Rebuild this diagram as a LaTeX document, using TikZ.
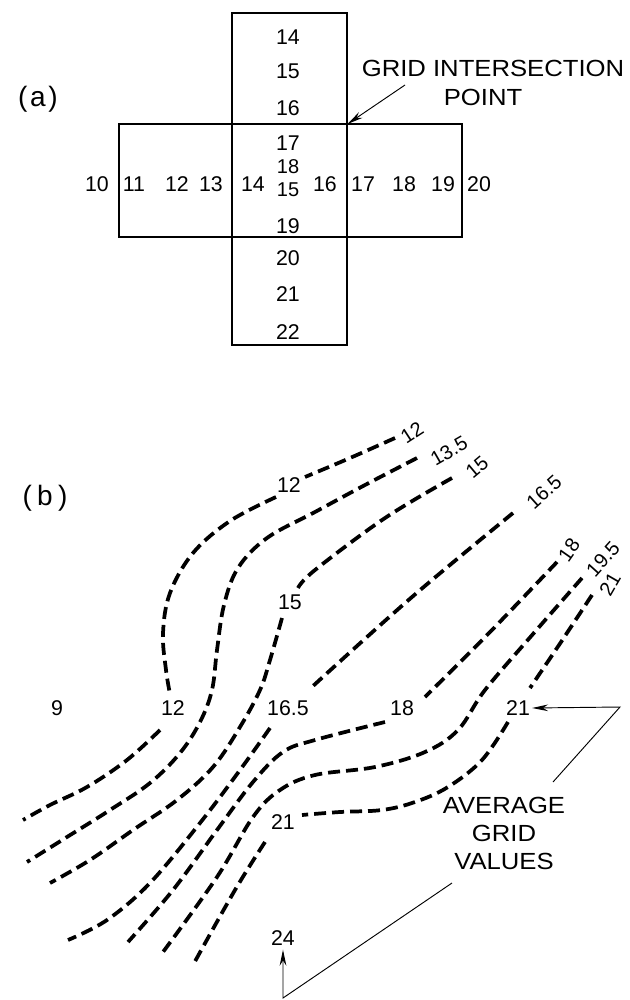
\documentclass[tikz,border=0pt]{standalone}
\usepackage{fontspec}
\setmainfont{Liberation Sans}
\usetikzlibrary{arrows.meta}
\tikzset{
  box/.style={draw, line width=0.9pt},
  contour/.style={line width=2.8pt, dash pattern=on 9pt off 4.5pt},
  lead/.style={line width=0.7pt},
  tipped/.style={-{Stealth[length=12pt,width=5pt]}},
  num/.style={inner sep=0pt, font=\fontsize{16}{18}\selectfont},
  endnum/.style={inner sep=0pt, font=\fontsize{15}{16}\selectfont},
  smallnum/.style={inner sep=0pt, font=\fontsize{15}{16}\selectfont},
  word/.style={inner sep=0pt, font=\fontsize{17.5}{21}\selectfont, xscale=1.1, align=center},
  plabel/.style={inner sep=0pt, font=\fontsize{21}{23}\selectfont}
}
\begin{document}
\begin{tikzpicture}[x=0.75pt,y=-0.75pt]
\useasboundingbox (0,0) rectangle (630,1000);
% ---------- (a) ----------
\node[plabel] (la) at (38,99) {(\hspace{2pt}a\hspace{2pt})};
\draw[box] (232,13) rectangle (347,345);
\draw[box] (119,124) rectangle (462,237);
\node[num] (c14) at (288,37) {14};
\node[num] (c15) at (288,71) {15};
\node[num] (c16) at (288,108) {16};
\node[num] (c17) at (288,143) {17};
\node[smallnum] (c18) at (288,167) {18};
\node[smallnum] (c15b) at (288,190) {15};
\node[num] (c19) at (288,226) {19};
\node[num] (c20) at (288,258) {20};
\node[num] (c21) at (288,294) {21};
\node[num] (c22) at (288,332) {22};
\node[num] (r10) at (97,184) {10};
\node[num] (r11) at (134,184) {11};
\node[num] (r12) at (177,184) {12};
\node[num] (r13) at (211,184) {13};
\node[num] (r14) at (253,184) {14};
\node[num] (r16) at (325,184) {16};
\node[num] (r17) at (363,184) {17};
\node[num] (r18) at (404,184) {18};
\node[num] (r19) at (443,184) {19};
\node[num] (r20) at (479,184) {20};
\node[word] (gi1) at (493,68) {GRID INTERSECTION};
\node[word] (gi2) at (483,97) {POINT};
\coordinate (gtail) at (405,85);
\coordinate (gip) at (347.5,124);
\draw[lead, tipped] (gtail) -- (gip);
% ---------- (b) ----------
\node[plabel] (lb) at (45,498) {(\hspace{4pt}b\hspace{4pt})};
% end labels (rotated)
\node[endnum, rotate=33] (e12) at (412,433) {12};
\node[endnum, rotate=30] (e135) at (449,451) {13.5};
\node[endnum, rotate=40] (e15) at (477,467) {15};
\node[endnum, rotate=42] (e165) at (544,492) {16.5};
\node[endnum, rotate=55] (e18) at (569,550) {18};
\node[endnum, rotate=48] (e195) at (603,559) {19.5};
\node[endnum, rotate=60] (e21) at (610,584) {21};
% grid values
\node[num] (v9) at (57,708) {9};
\node[num] (v12) at (173,708) {12};
\node[num] (v165) at (288,708) {16.5};
\node[num] (v18) at (402,708) {18};
\node[num] (v21) at (518,708) {21};
\node[num] (m12) at (289,485) {12};
\node[num] (m15) at (290,602) {15};
\node[num] (m21) at (283,822) {21};
\node[num] (v24) at (283,938) {24};
% contours
\draw[contour] plot[smooth, tension=0.6] coordinates {(395,438) (350,458) (305,477)};
\draw[contour] plot[smooth, tension=0.6] coordinates {(276,497) (230,521) (193,553) (170,593) (163,633) (166,670) (170,694)};
\draw[contour] plot[smooth, tension=0.6] coordinates {(160,730) (127,760) (87,787) (50,805) (23,820)};
\draw[contour] plot[smooth, tension=0.6] coordinates {(417,458) (365,485) (315,512) (267,538) (238,568) (224,605) (217,650) (212,690) (200,722) (180,753) (150,783) (110,810) (67,837) (27,862)};
\draw[contour] plot[smooth, tension=0.6] coordinates {(452,478) (385,518) (315,570) (298,588)};
\draw[contour] plot[smooth, tension=0.6] coordinates {(282,618) (270,660) (260,690) (240,727) (213,767) (177,800) (133,830) (90,860) (50,883)};
\draw[contour] plot[smooth, tension=0.6] coordinates {(513,513) (412,597) (313,686)};
\draw[contour] plot[smooth, tension=0.6] coordinates {(270,728) (240,770) (200,823) (150,883) (107,920) (68,940)};
\draw[contour] plot[smooth, tension=0.6] coordinates {(557,562) (490,632) (425,697)};
\draw[contour] plot[smooth, tension=0.6] coordinates {(385,722) (315,740) (283,752) (253,782) (217,830) (173,890) (128,942)};
\draw[contour] plot[smooth, tension=0.6] coordinates {(582,578) (533,634) (485,690) (458,730) (425,752) (375,767) (315,775) (280,790) (253,817) (217,877) (163,952)};
\draw[contour] plot[smooth, tension=0.6] coordinates {(592,595) (561,642) (530,688)};
\draw[contour] plot[smooth, tension=0.6] coordinates {(508,722) (482,760) (448,787) (415,802) (382,810) (340,812) (302,815)};
\draw[contour] plot[smooth, tension=0.6] coordinates {(265,842) (235,890) (193,965)};
% average grid values
\node[word] (avg) at (504,833) {AVERAGE\\GRID\\VALUES};
\coordinate (k1) at (620,707);
\coordinate (k2) at (553,782);
\coordinate (k3) at (452,883);
\coordinate (k4) at (283,998);
\draw[lead, tipped] (k2) -- (k1) -- ([xshift=1.5pt]v21.east);
\draw[lead, tipped] (k3) -- (k4) -- ([yshift=-3pt]v24.south);
\end{tikzpicture}
\end{document}
